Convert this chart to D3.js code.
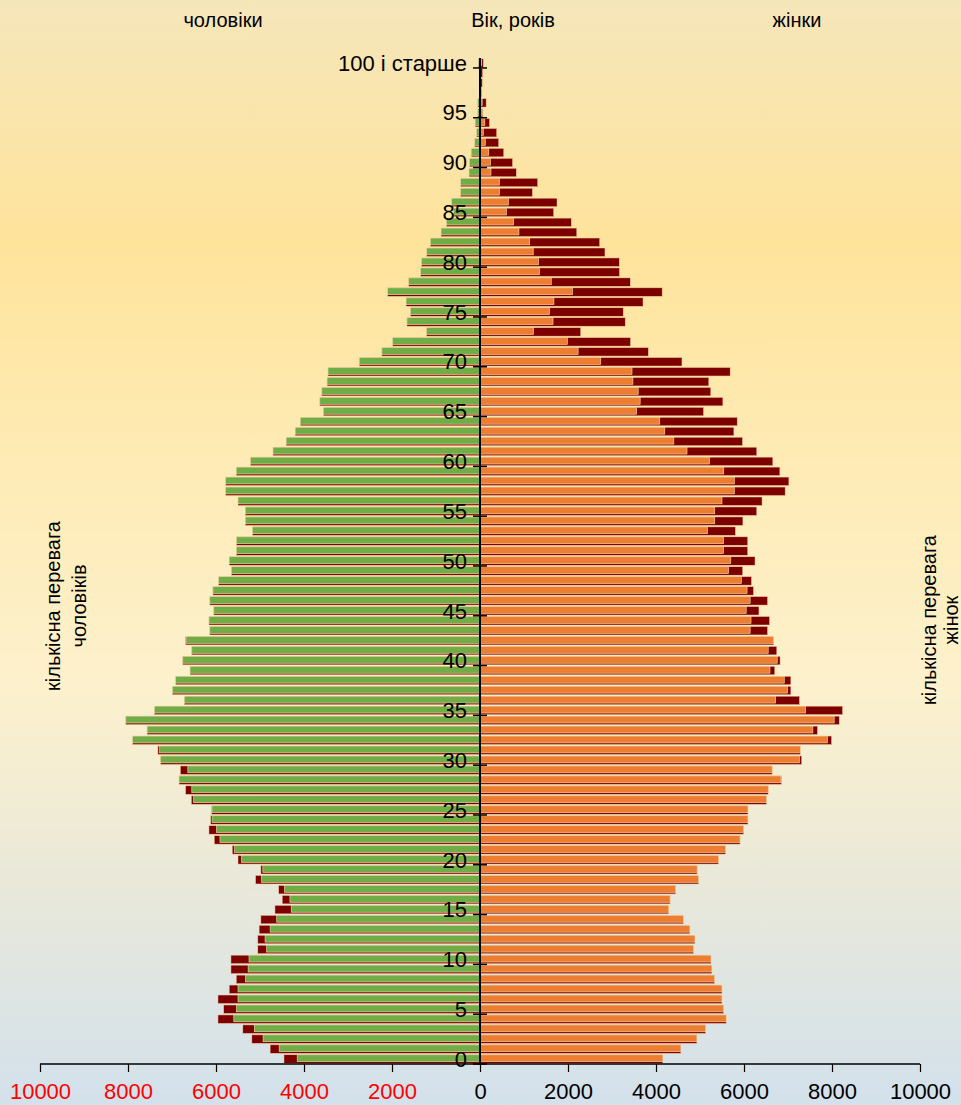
<!DOCTYPE html>
<head>
  <meta charset="utf-8">
  <script src="https://d3js.org/d3.v7.min.js"></script>
  <style>
    body { margin: 0; }
    svg {
      width: 961px;
      height: 1105px;
      display: block;
      font-family: "Liberation Sans", Arial, sans-serif;
    }
  </style>
</head>

<body>
  <svg></svg>
  <script>
    // age groups 0..100 ("100 і старше" is the last one)
    var ages = d3.range(0, 101);

    // male count per age, 0 -> 100+
    var male = [
      4455, 4770, 5185, 5390, 5955, 5825, 5955, 5700, 5540, 5660,
      5660, 5050, 5050, 5020, 4980, 4660, 4495, 4575, 5100, 4980,
      5500, 5630, 6040, 6160, 6120, 6100, 6560, 6690, 6840, 6810,
      7260, 7320, 7895, 7565, 8050, 7400, 6720, 6990, 6915, 6590,
      6755, 6550, 6690, 6140, 6160, 6050, 6140, 6070, 5940, 5650,
      5700, 5535, 5535, 5170, 5335, 5335, 5500, 5780, 5780, 5540,
      5215, 4705, 4405, 4200, 4085, 3560, 3640, 3595, 3475, 3455,
      2745, 2230, 1985, 1215, 1660, 1580, 1680, 2100, 1620, 1350,
      1330, 1210, 1130, 885, 765, 600, 645, 440, 440, 250,
      240, 200, 120, 75, 110, 50, 50, 10, 15, 15,
      40
    ];

    // female count per age, 0 -> 100+
    var female = [
      4155, 4565, 4930, 5130, 5595, 5535, 5500, 5500, 5330, 5270,
      5250, 4850, 4885, 4770, 4620, 4290, 4320, 4445, 4965, 4935,
      5420, 5580, 5910, 5990, 6090, 6090, 6510, 6550, 6850, 6640,
      7310, 7280, 7990, 7670, 8165, 8240, 7260, 7065, 7065, 6700,
      6820, 6745, 6670, 6535, 6580, 6340, 6535, 6215, 6170, 5970,
      6250, 6085, 6085, 5805, 5975, 6290, 6410, 6935, 7020, 6815,
      6655, 6290, 5965, 5770, 5845, 5080, 5520, 5245, 5200, 5685,
      4590, 3825, 3420, 2288, 3300, 3255, 3705, 4140, 3415, 3170,
      3165, 2840, 2720, 2200, 2075, 1675, 1750, 1190, 1310, 825,
      740, 540, 425, 380, 215, 65, 140, 35, 50, 60,
      75
    ];

    var ageTicks = [0, 5, 10, 15, 20, 25, 30, 35, 40, 45, 50, 55, 60, 65, 70, 75, 80, 85, 90, 95, 100];
    var ageTickLabels = ['0', '5', '10', '15', '20', '25', '30', '35', '40', '45', '50',
      '55', '60', '65', '70', '75', '80', '85', '90', '95', '100 і старше'];
    var countTicks = [-10000, -8000, -6000, -4000, -2000, 0, 2000, 4000, 6000, 8000, 10000];

    var green = '#70ad47', orange = '#ed7d31', darkRed = '#7c0000';

    var svg = d3.select('svg');

    // background gradient
    var grad = svg.append('defs').append('linearGradient')
      .attr('id', 'bg').attr('x1', 0).attr('y1', 0).attr('x2', 0).attr('y2', 1);
    [['0', '#f5e6ba'], ['0.22', '#fee39b'], ['0.42', '#feebb5'], ['0.62', '#fdf1cd'],
     ['0.78', '#ebe9d8'], ['1', '#d3e1ec']]
      .forEach(function(s) {
        grad.append('stop').attr('offset', s[0]).attr('stop-color', s[1]);
      });
    svg.append('rect').attr('width', 961).attr('height', 1105).attr('fill', 'url(#bg)');

    var x0 = 480;
    var xAxisY = 1064;
    var xRight = d3.scaleLinear().domain([0, 10000]).range([x0, 920]);
    var xLeft = d3.scaleLinear().domain([0, 10000]).range([x0, 40]);
    var xFull = d3.scaleLinear().domain([-10000, 10000]).range([40, 920]);

    var y = d3.scaleBand().domain(ages).range([xAxisY, 58])
      .paddingInner(0.15).paddingOuter(0.075);
    var bw = y.bandwidth();

    var rows = ages.map(function(a, i) {
      return {age: a, m: male[i], f: female[i], min: Math.min(male[i], female[i])};
    });

    var bars = svg.append('g');

    // full value in dark red, drawn first
    bars.selectAll('rect.mfull').data(rows).enter().append('rect')
      .attr('x', function(d) { return xLeft(d.m); })
      .attr('y', function(d) { return y(d.age); })
      .attr('width', function(d) { return x0 - xLeft(d.m); })
      .attr('height', bw)
      .attr('fill', darkRed)
      .attr('stroke', '#f3c99a').attr('stroke-width', 0.5);
    bars.selectAll('rect.ffull').data(rows).enter().append('rect')
      .attr('x', x0)
      .attr('y', function(d) { return y(d.age); })
      .attr('width', function(d) { return xRight(d.f) - x0; })
      .attr('height', bw)
      .attr('fill', darkRed)
      .attr('stroke', '#f3c99a').attr('stroke-width', 0.5);

    // common part (smaller of the two) on top
    bars.selectAll('rect.mmin').data(rows).enter().append('rect')
      .attr('x', function(d) { return xLeft(d.min); })
      .attr('y', function(d) { return y(d.age); })
      .attr('width', function(d) { return x0 - xLeft(d.min); })
      .attr('height', bw - 1.6)
      .attr('fill', green)
      .attr('stroke', '#f6e2b0').attr('stroke-width', 0.6);
    bars.selectAll('rect.fmin').data(rows).enter().append('rect')
      .attr('x', x0)
      .attr('y', function(d) { return y(d.age); })
      .attr('width', function(d) { return xRight(d.min) - x0; })
      .attr('height', bw - 1.6)
      .attr('fill', orange)
      .attr('stroke', '#f6e2b0').attr('stroke-width', 0.6);

    // bottom axis
    var xAxis = d3.axisBottom(xFull)
      .tickValues(countTicks)
      .tickSize(8)
      .tickFormat(function(d) { return Math.abs(d); });
    var gx = svg.append('g')
      .attr('transform', 'translate(0,' + xAxisY + ')')
      .call(xAxis);
    gx.select('.domain').attr('stroke', '#000').attr('stroke-width', 1.5)
      .attr('d', 'M40,0H920');
    gx.selectAll('.tick line').attr('stroke', '#000').attr('stroke-width', 1.2);
    gx.selectAll('.tick text')
      .attr('y', 19)
      .attr('font-size', 22)
      .attr('font-family', '"Liberation Sans", Arial, sans-serif')
      .attr('fill', function(d) { return d < 0 ? '#ff0000' : '#000'; });

    // vertical age axis
    var gy = svg.append('g');
    gy.append('line')
      .attr('x1', x0).attr('x2', x0)
      .attr('y1', 58).attr('y2', xAxisY)
      .attr('stroke', '#000').attr('stroke-width', 2);
    var gap = y.step() * y.paddingInner() / 2;
    gy.selectAll('line.tick').data(ageTicks).enter().append('line')
      .attr('x1', x0 - 7).attr('x2', x0 + 7)
      .attr('y1', function(d) { return y(d) + bw + gap; })
      .attr('y2', function(d) { return y(d) + bw + gap; })
      .attr('stroke', '#000').attr('stroke-width', 1.5);
    gy.selectAll('text').data(ageTicks).enter().append('text')
      .attr('x', x0 - 13)
      .attr('y', function(d) { return y(d) + bw / 2; })
      .attr('dy', '0.35em')
      .attr('text-anchor', 'end')
      .attr('font-size', 22)
      .text(function(d, i) { return ageTickLabels[i]; });

    // titles
    var titles = [
      {t: 'чоловіки', x: 223},
      {t: 'Вік, років', x: 513},
      {t: 'жінки', x: 797}
    ];
    svg.selectAll('text.title').data(titles).enter().append('text')
      .attr('x', function(d) { return d.x; })
      .attr('y', 27)
      .attr('text-anchor', 'middle')
      .attr('font-size', 20)
      .text(function(d) { return d.t; });

    // side notes
    var left = svg.append('text')
      .attr('transform', 'translate(60,606)rotate(-90)')
      .attr('text-anchor', 'middle')
      .attr('font-size', 20);
    left.append('tspan').attr('x', 0).attr('dy', 0).text('кількісна перевага');
    left.append('tspan').attr('x', 0).attr('dy', 26).text('чоловіків');

    var right = svg.append('text')
      .attr('transform', 'translate(936,620)rotate(-90)')
      .attr('text-anchor', 'middle')
      .attr('font-size', 20);
    right.append('tspan').attr('x', 0).attr('dy', 0).text('кількісна перевага');
    right.append('tspan').attr('x', 0).attr('dy', 22).text('жінок');
  </script>
</body>
